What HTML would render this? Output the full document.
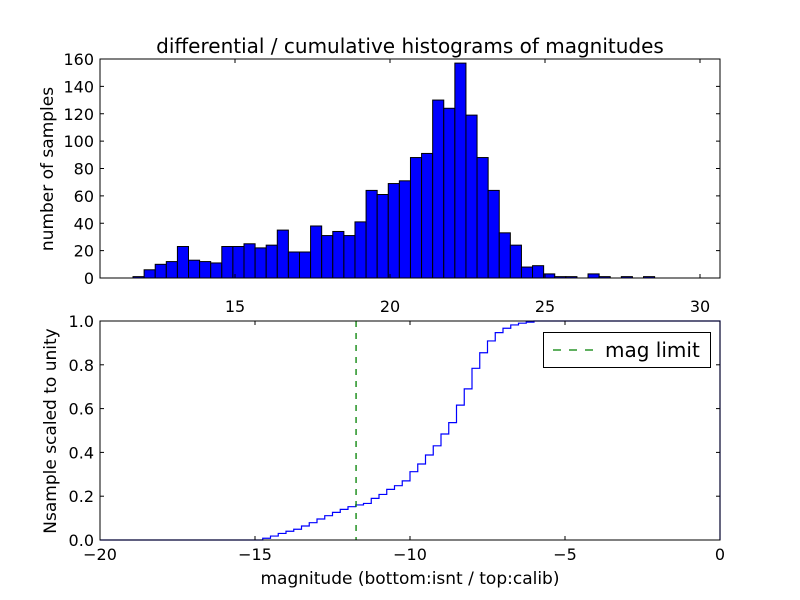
<!DOCTYPE html>
<html><head><meta charset="utf-8"><style>
body{margin:0;background:#fff;}
svg{display:block;font-family:"DejaVu Sans","Liberation Sans",sans-serif;}
</style></head><body>
<svg id="chart" width="800" height="600" viewBox="0 0 800 600" xmlns="http://www.w3.org/2000/svg">
<rect width="800" height="600" fill="#fff"/>
<g id="topg"></g><g id="botg"></g>
</svg>
<script>
// Top histogram data
const histCounts = [1,6,10,12,23,13,12,11,23,23,25,22,24,35,19,19,38,31,34,31,41,64,61,69,71,88,91,130,124,157,119,88,64,33,24,8,9,3,1,1,0,3,1,0,1,0,1,0,0,0,0,0,0,0,0];
const histBinStart = [11.71];
const histBinWidth = [0.358];
const topXTicks = [15,20,25,30];
const topYTicks = [0,20,40,60,80,100,120,140,160];
// Bottom cumulative data
const cumFractions = [0.008,0.018,0.03,0.04,0.049,0.064,0.079,0.096,0.111,0.126,0.14,0.152,0.16,0.167,0.19,0.208,0.231,0.248,0.27,0.312,0.347,0.388,0.43,0.484,0.536,0.616,0.69,0.784,0.855,0.909,0.947,0.967,0.982,0.99,0.995,1.0];
const cumBinStart = [-14.75];
const cumBinWidth = [0.25];
const magLimit = [-11.74];
const botXTicks = [-20,-15,-10,-5,0];
const botYTicks = [0.0,0.2,0.4,0.6,0.8,1.0];

const NS="http://www.w3.org/2000/svg";
function mk(parent,tag,attrs,text){const e=document.createElementNS(NS,tag);for(const k in attrs)e.setAttribute(k,attrs[k]);if(text!==undefined)e.textContent=text;parent.appendChild(e);return e;}

const L=100,R=720;
const tT=59,tB=278,txMin=10.645,txMax=30.645,tyMax=160;
const tx=v=>L+(v-txMin)/(txMax-txMin)*(R-L);
const ty=v=>tB-v/tyMax*(tB-tT);
const topG=document.getElementById('topg');
histCounts.forEach((c,i)=>{
  if(c<=0) return;
  const x0=tx(histBinStart[0]+i*histBinWidth[0]), x1=tx(histBinStart[0]+(i+1)*histBinWidth[0]);
  const r=mk(topG,'rect',{x:x0,y:ty(c),width:x1-x0,height:tB-ty(c),fill:'#0000ff',stroke:'#000','stroke-width':1});
  
  
});
let f=mk(topG,'rect',{x:L,y:tT,width:R-L,height:tB-tT,fill:'none',stroke:'#000','stroke-width':1});


topXTicks.forEach(v=>{const x=tx(v);
  mk(topG,'line',{x1:x,x2:x,y1:tB,y2:tB-4,stroke:'#000'});
  mk(topG,'line',{x1:x,x2:x,y1:tT,y2:tT+4,stroke:'#000'});
  const t=mk(topG,'text',{x:x,y:tB+34,'text-anchor':'middle','font-size':16},String(v));
  
  
});
topYTicks.forEach(v=>{const y=ty(v);
  mk(topG,'line',{x1:L,x2:L+4,y1:y,y2:y,stroke:'#000'});
  mk(topG,'line',{x1:R,x2:R-4,y1:y,y2:y,stroke:'#000'});
  const t=mk(topG,'text',{x:L-6,y:y+6,'text-anchor':'end','font-size':16},String(v));
  
  
});
let tt=mk(topG,'text',{x:410,y:53,'text-anchor':'middle','font-size':20},'differential / cumulative histograms of magnitudes');


let yl=mk(topG,'text',{x:53,y:169,'text-anchor':'middle','font-size':17,transform:'rotate(-90 53 169)'},'number of samples');



const bT=321,bB=540,bxMin=-20,bxMax=0;
const bx=v=>L+(v-bxMin)/(bxMax-bxMin)*(R-L);
const by=v=>bB-v*(bB-bT);
const botG=document.getElementById('botg');
let d=`M${L},${by(0)}`;let prev=0;
cumFractions.forEach((c,i)=>{const x=bx(cumBinStart[0]+i*cumBinWidth[0]);d+=` L${x},${by(prev)} L${x},${by(c)}`;prev=c;});
d+=` L${R},${by(prev)} L${R},${by(0)}`;
let p=mk(botG,'path',{d:d,fill:'none',stroke:'#0000ff','stroke-width':1.2});


let ml=mk(botG,'line',{x1:bx(magLimit[0]),x2:bx(magLimit[0]),y1:bT,y2:bB,stroke:'#008000','stroke-width':1.3,'stroke-dasharray':'6,6'});


f=mk(botG,'rect',{x:L,y:bT,width:R-L,height:bB-bT,fill:'none',stroke:'#000','stroke-width':1});


botXTicks.forEach(v=>{const x=bx(v);
  mk(botG,'line',{x1:x,x2:x,y1:bB,y2:bB-4,stroke:'#000'});
  mk(botG,'line',{x1:x,x2:x,y1:bT,y2:bT+4,stroke:'#000'});
  const t=mk(botG,'text',{x:x,y:bB+20,'text-anchor':'middle','font-size':16},v<0?'\u2212'+Math.abs(v):String(v));
  
  
});
botYTicks.forEach(v=>{const y=by(v);
  mk(botG,'line',{x1:L,x2:L+4,y1:y,y2:y,stroke:'#000'});
  mk(botG,'line',{x1:R,x2:R-4,y1:y,y2:y,stroke:'#000'});
  const t=mk(botG,'text',{x:L-6,y:y+6,'text-anchor':'end','font-size':16},v.toFixed(1));
  
  
});
let xl=mk(botG,'text',{x:410,y:584,'text-anchor':'middle','font-size':17},'magnitude (bottom:isnt / top:calib)');


yl=mk(botG,'text',{x:56,y:431,'text-anchor':'middle','font-size':17,transform:'rotate(-90 56 431)'},'Nsample scaled to unity');


const lg=mk(botG,'g',{});


mk(lg,'rect',{x:543.5,y:332.5,width:167,height:35,fill:'#fff',stroke:'#000'});
mk(lg,'line',{x1:553,x2:593,y1:350,y2:350,stroke:'#008000','stroke-width':1.3,'stroke-dasharray':'8,8'});
const lt=mk(lg,'text',{x:605,y:357,'font-size':20},'mag limit');


</script>
</body></html>
